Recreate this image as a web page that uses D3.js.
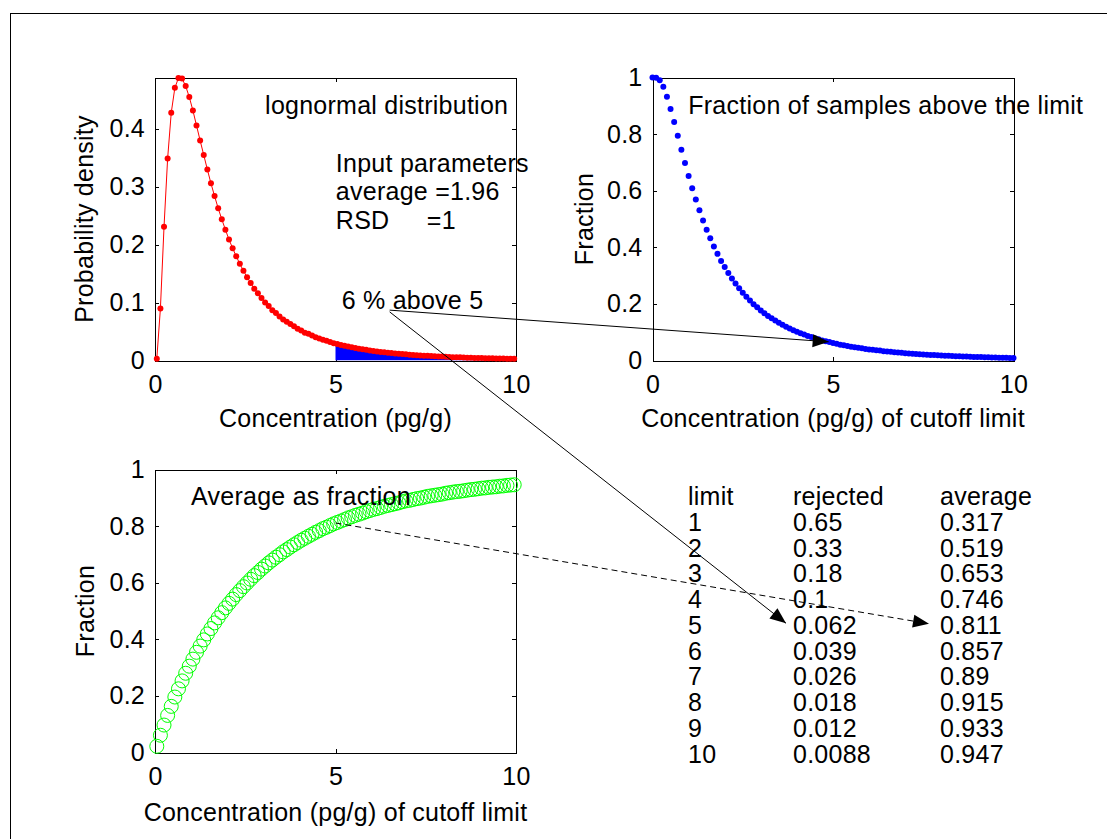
<!DOCTYPE html>
<html>
<head>
<meta charset="utf-8">
<script src="https://cdn.jsdelivr.net/npm/d3@7"></script>
<style>
  body { margin: 0; background: #fff; }
  svg text { font-family: "Liberation Sans", Arial, sans-serif; font-size: 25px; letter-spacing: 0.25px; fill: #000; }
</style>
</head>
<body>
<div id="chart"></div>
<script>
// concentration grid used for the density and the average curve
const conc = [
  0.05, 0.15, 0.25, 0.35, 0.45, 0.55, 0.65, 0.75, 0.85, 0.95,
  1.05, 1.15, 1.25, 1.35, 1.45, 1.55, 1.65, 1.75, 1.85, 1.95,
  2.05, 2.15, 2.25, 2.35, 2.45, 2.55, 2.65, 2.75, 2.85, 2.95,
  3.05, 3.15, 3.25, 3.35, 3.45, 3.55, 3.65, 3.75, 3.85, 3.95,
  4.05, 4.15, 4.25, 4.35, 4.45, 4.55, 4.65, 4.75, 4.85, 4.95,
  5.05, 5.15, 5.25, 5.35, 5.45, 5.55, 5.65, 5.75, 5.85, 5.95,
  6.05, 6.15, 6.25, 6.35, 6.45, 6.55, 6.65, 6.75, 6.85, 6.95,
  7.05, 7.15, 7.25, 7.35, 7.45, 7.55, 7.65, 7.75, 7.85, 7.95,
  8.05, 8.15, 8.25, 8.35, 8.45, 8.55, 8.65, 8.75, 8.85, 8.95,
  9.05, 9.15, 9.25, 9.35, 9.45, 9.55, 9.65, 9.75, 9.85, 9.95
];
const density = [
  0.003, 0.090, 0.231, 0.349, 0.428, 0.471, 0.488, 0.487, 0.474, 0.455,
  0.432, 0.406, 0.380, 0.355, 0.330, 0.306, 0.284, 0.263, 0.244, 0.226,
  0.209, 0.194, 0.180, 0.167, 0.155, 0.144, 0.134, 0.124, 0.116, 0.108,
  0.100, 0.094, 0.087, 0.082, 0.076, 0.071, 0.067, 0.063, 0.059, 0.055,
  0.052, 0.048, 0.046, 0.043, 0.040, 0.038, 0.036, 0.034, 0.032, 0.030,
  0.0284, 0.0268, 0.0254, 0.0240, 0.0227, 0.0215, 0.0204, 0.0193, 0.0184, 0.0174,
  0.0165, 0.0157, 0.0149, 0.0142, 0.0135, 0.0128, 0.0122, 0.0116, 0.0111, 0.0106,
  0.0101, 0.0096, 0.0092, 0.0088, 0.0084, 0.0080, 0.0076, 0.0073, 0.0070, 0.0067,
  0.0064, 0.0061, 0.0058, 0.0056, 0.0054, 0.0051, 0.0049, 0.0047, 0.0045, 0.0044,
  0.0042, 0.0040, 0.0038, 0.0037, 0.0036, 0.0034, 0.0033, 0.0032, 0.0030, 0.0029
];
const averageFraction = [
  0.022, 0.061, 0.097, 0.131, 0.163, 0.196, 0.225, 0.253, 0.280, 0.305,
  0.330, 0.354, 0.376, 0.398, 0.419, 0.438, 0.458, 0.476, 0.494, 0.511,
  0.527, 0.542, 0.558, 0.572, 0.586, 0.599, 0.612, 0.625, 0.636, 0.648,
  0.659, 0.670, 0.680, 0.690, 0.699, 0.709, 0.717, 0.726, 0.734, 0.742,
  0.750, 0.757, 0.764, 0.771, 0.778, 0.784, 0.791, 0.796, 0.802, 0.808,
  0.813, 0.818, 0.823, 0.829, 0.833, 0.838, 0.842, 0.846, 0.851, 0.855,
  0.859, 0.862, 0.866, 0.870, 0.873, 0.876, 0.879, 0.882, 0.886, 0.889,
  0.891, 0.894, 0.897, 0.899, 0.902, 0.905, 0.907, 0.909, 0.911, 0.913,
  0.916, 0.918, 0.920, 0.922, 0.923, 0.925, 0.927, 0.929, 0.930, 0.932,
  0.934, 0.935, 0.937, 0.938, 0.939, 0.941, 0.942, 0.944, 0.945, 0.946
];

// cutoff limits for the "fraction above" curve
const cutoff = [
  0, 0.1, 0.2, 0.3, 0.4, 0.5, 0.6, 0.7, 0.8, 0.9,
  1.0, 1.1, 1.2, 1.3, 1.4, 1.5, 1.6, 1.7, 1.8, 1.9,
  2.0, 2.1, 2.2, 2.3, 2.4, 2.5, 2.6, 2.7, 2.8, 2.9,
  3.0, 3.1, 3.2, 3.3, 3.4, 3.5, 3.6, 3.7, 3.8, 3.9,
  4.0, 4.1, 4.2, 4.3, 4.4, 4.5, 4.6, 4.7, 4.8, 4.9,
  5.0, 5.1, 5.2, 5.3, 5.4, 5.5, 5.6, 5.7, 5.8, 5.9,
  6.0, 6.1, 6.2, 6.3, 6.4, 6.5, 6.6, 6.7, 6.8, 6.9,
  7.0, 7.1, 7.2, 7.3, 7.4, 7.5, 7.6, 7.7, 7.8, 7.9,
  8.0, 8.1, 8.2, 8.3, 8.4, 8.5, 8.6, 8.7, 8.8, 8.9,
  9.0, 9.1, 9.2, 9.3, 9.4, 9.5, 9.6, 9.7, 9.8, 9.9, 10
];
const fractionAbove = [
  1.000, 0.999, 0.990, 0.967, 0.932, 0.889, 0.843, 0.794, 0.745, 0.698,
  0.652, 0.609, 0.569, 0.531, 0.495, 0.462, 0.432, 0.403, 0.377, 0.352,
  0.330, 0.309, 0.290, 0.272, 0.255, 0.239, 0.225, 0.212, 0.199, 0.188,
  0.177, 0.167, 0.157, 0.149, 0.141, 0.133, 0.126, 0.119, 0.113, 0.107,
  0.102, 0.096, 0.092, 0.087, 0.083, 0.079, 0.075, 0.071, 0.068, 0.065,
  0.062, 0.059, 0.056, 0.054, 0.051, 0.049, 0.047, 0.045, 0.043, 0.041,
  0.039, 0.038, 0.036, 0.035, 0.033, 0.032, 0.031, 0.029, 0.028, 0.027,
  0.026, 0.025, 0.024, 0.023, 0.022, 0.021, 0.0206, 0.0198, 0.0191, 0.0183,
  0.0176, 0.0170, 0.0165, 0.0159, 0.0153, 0.0147, 0.0142, 0.0137, 0.0133, 0.0128,
  0.0124, 0.0120, 0.0116, 0.0112, 0.0107, 0.0104, 0.0101, 0.0098, 0.0095, 0.0092, 0.0089
];

// summary table
const tableLimit = ["1", "2", "3", "4", "5", "6", "7", "8", "9", "10"];
const tableRejected = ["0.65", "0.33", "0.18", "0.1", "0.062", "0.039", "0.026", "0.018", "0.012", "0.0088"];
const tableAverage = ["0.317", "0.519", "0.653", "0.746", "0.811", "0.857", "0.89", "0.915", "0.933", "0.947"];

// ticks
const concTicks = [0, 5, 10];
const densityTicks = [0, 0.1, 0.2, 0.3, 0.4];
const fractionTicks = [0, 0.2, 0.4, 0.6, 0.8, 1];

const width = 1107, height = 839;
const plotW = 361, plotH = 283;

const svg = d3.select("#chart").append("svg")
  .attr("width", width)
  .attr("height", height);

svg.append("rect").attr("width", width).attr("height", height).attr("fill", "#fff");

// figure frame
svg.append("rect")
  .attr("x", 10.5).attr("y", 13.5)
  .attr("width", 1200).attr("height", 900)
  .attr("fill", "none").attr("stroke", "#000");

// one set of axes, MATLAB style: box, inward ticks on all sides
function panel(left, top, yMax, yTicks, xLabel, yLabel, yLabelX, xLabelY) {
  const x = d3.scaleLinear().domain([0, 10]).range([left, left + plotW]);
  const y = d3.scaleLinear().domain([0, yMax]).range([top + plotH, top]);
  const g = svg.append("g");

  const fmt = d3.format("~g");
  const bottom = g.append("g")
    .attr("transform", "translate(0," + (top + plotH) + ")")
    .call(d3.axisBottom(x).tickValues(concTicks).tickSize(-4).tickPadding(15).tickFormat(fmt));
  const topAx = g.append("g")
    .attr("transform", "translate(0," + top + ")")
    .call(d3.axisTop(x).tickValues(concTicks).tickSize(-4).tickFormat(""));
  const leftAx = g.append("g")
    .attr("transform", "translate(" + left + ",0)")
    .call(d3.axisLeft(y).tickValues(yTicks).tickSize(-4).tickPadding(10).tickFormat(fmt));
  const rightAx = g.append("g")
    .attr("transform", "translate(" + (left + plotW) + ",0)")
    .call(d3.axisRight(y).tickValues(yTicks).tickSize(-4).tickFormat(""));
  [bottom, topAx, leftAx, rightAx].forEach(a => {
    a.select(".domain").remove();
    a.selectAll("line").attr("shape-rendering", "crispEdges");
  });

  g.append("rect")
    .attr("x", left + 0.5).attr("y", top + 0.5)
    .attr("width", plotW).attr("height", plotH)
    .attr("fill", "none").attr("stroke", "#000")
    .attr("shape-rendering", "crispEdges");

  g.append("text")
    .attr("x", left + plotW / 2).attr("y", xLabelY)
    .attr("text-anchor", "middle")
    .text(xLabel);
  g.append("text")
    .attr("transform", "translate(" + yLabelX + "," + (top + plotH / 2) + ") rotate(-90)")
    .attr("text-anchor", "middle")
    .text(yLabel);

  return {x, y, g};
}

const pdfPanel = panel(155, 77.5, 0.4889, densityTicks, "Concentration (pg/g)", "Probability density", 93, 427);
const fracPanel = panel(652.5, 77.5, 1, fractionTicks, "Concentration (pg/g) of cutoff limit", "Fraction", 593, 427);
const avgPanel = panel(155, 469.5, 1, fractionTicks, "Concentration (pg/g) of cutoff limit", "Fraction", 94, 821);

// --- density panel ---
const pdfData = conc.map((c, i) => ({c, v: density[i]}));

svg.append("clipPath").attr("id", "above5")
  .append("rect")
  .attr("x", pdfPanel.x(5)).attr("y", pdfPanel.y(0.4889))
  .attr("width", pdfPanel.x(10) - pdfPanel.x(5))
  .attr("height", pdfPanel.y(0) - pdfPanel.y(0.4889));

pdfPanel.g.append("path")
  .datum(pdfData.filter(d => d.c >= 4.9))
  .attr("clip-path", "url(#above5)")
  .attr("fill", "#0000ff")
  .attr("d", d3.area()
    .x(d => pdfPanel.x(d.c))
    .y0(pdfPanel.y(0))
    .y1(d => pdfPanel.y(d.v)));

pdfPanel.g.append("path")
  .datum(pdfData)
  .attr("fill", "none")
  .attr("stroke", "#ff0000")
  .attr("stroke-width", 1)
  .attr("d", d3.line().x(d => pdfPanel.x(d.c)).y(d => pdfPanel.y(d.v)));

pdfPanel.g.selectAll("circle.dot")
  .data(pdfData)
  .join("circle")
  .attr("class", "dot")
  .attr("cx", d => pdfPanel.x(d.c))
  .attr("cy", d => pdfPanel.y(d.v))
  .attr("r", 3)
  .attr("fill", "#ff0000");

function note(p, xv, yv, parts) {
  const t = p.g.append("text").attr("x", p.x(xv)).attr("y", p.y(yv));
  parts.forEach(part => {
    const s = t.append("tspan").text(part.text);
    if (part.x !== undefined) s.attr("x", p.x(part.x));
  });
  return t;
}

note(pdfPanel, 3.05, 0.426, [{text: "lognormal distribution"}]);
note(pdfPanel, 5.01, 0.326, [{text: "Input parameters"}]);
note(pdfPanel, 5.01, 0.277, [{text: "average =1.96"}]);
note(pdfPanel, 5.01, 0.227, [{text: "RSD"}, {text: "=1", x: 7.53}]);
note(pdfPanel, 5.17, 0.089, [{text: "6 % above 5"}]);

// --- fraction above panel ---
fracPanel.g.selectAll("circle.dot")
  .data(cutoff.map((c, i) => ({c, v: fractionAbove[i]})))
  .join("circle")
  .attr("class", "dot")
  .attr("cx", d => fracPanel.x(d.c))
  .attr("cy", d => fracPanel.y(d.v))
  .attr("r", 3)
  .attr("fill", "#0000ff");

note(fracPanel, 0.99, 0.871, [{text: "Fraction of samples above the limit"}]);

// --- average panel ---
avgPanel.g.selectAll("circle.ring")
  .data(conc.map((c, i) => ({c, v: averageFraction[i]})))
  .join("circle")
  .attr("class", "ring")
  .attr("cx", d => avgPanel.x(d.c))
  .attr("cy", d => avgPanel.y(d.v))
  .attr("r", 7)
  .attr("fill", "none")
  .attr("stroke", "#00ff00")
  .attr("stroke-width", 1);

note(avgPanel, 1.0, 0.875, [{text: "Average as fraction"}]);

// --- table ---
const rowY = d3.scaleLinear().domain([0, 10]).range([505, 762.5]);
const colX = {limit: 688, rejected: 793, average: 940};
const table = svg.append("g");
table.append("text").attr("x", colX.limit).attr("y", rowY(0)).text("limit");
table.append("text").attr("x", colX.rejected).attr("y", rowY(0)).text("rejected");
table.append("text").attr("x", colX.average).attr("y", rowY(0)).text("average");
tableLimit.forEach((d, i) => {
  table.append("text").attr("x", colX.limit).attr("y", rowY(i + 1)).text(d);
  table.append("text").attr("x", colX.rejected).attr("y", rowY(i + 1)).text(tableRejected[i]);
  table.append("text").attr("x", colX.average).attr("y", rowY(i + 1)).text(tableAverage[i]);
});

// --- arrows ---
function arrow(p0, p1, dashed) {
  const dx = p1[0] - p0[0], dy = p1[1] - p0[1];
  const len = Math.hypot(dx, dy);
  const ux = dx / len, uy = dy / len;
  const hl = 16, hw = 6.5;
  const bx = p1[0] - ux * hl, by = p1[1] - uy * hl;
  svg.append("line")
    .attr("x1", p0[0]).attr("y1", p0[1])
    .attr("x2", dashed ? bx : p1[0]).attr("y2", dashed ? by : p1[1])
    .attr("stroke", "#000").attr("stroke-width", 1)
    .attr("stroke-dasharray", dashed ? "6,4" : null);
  svg.append("polygon")
    .attr("points", [[p1[0], p1[1]], [bx - uy * hw, by + ux * hw], [bx + uy * hw, by - ux * hw]].join(" "))
    .attr("fill", "#000");
}

arrow([pdfPanel.x(6.5), pdfPanel.y(0.087)], [fracPanel.x(4.88), fracPanel.y(0.066)], false);
arrow([pdfPanel.x(6.5), pdfPanel.y(0.084)], [colX.rejected - 7, rowY(5) - 10.5], false);
arrow([avgPanel.x(5), avgPanel.y(0.811)], [colX.average - 11, rowY(5) - 10], true);
</script>
</body>
</html>
